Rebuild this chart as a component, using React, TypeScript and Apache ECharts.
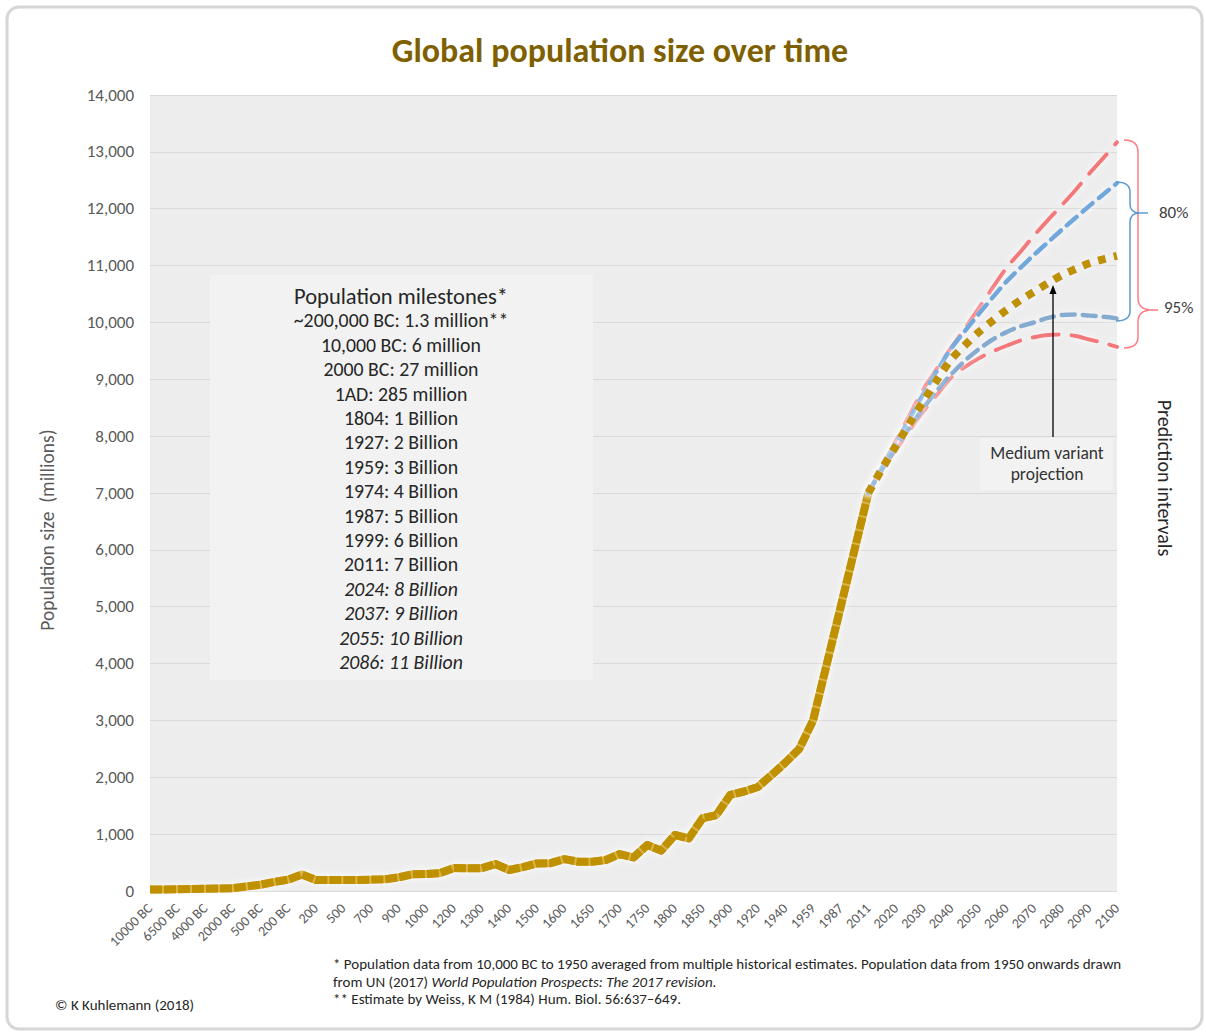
import React, { useEffect, useRef } from "react";
import * as echarts from "echarts";

// ---- Data ----
const histYears = [
  "10000 BC", "8000 BC", "6500 BC", "5000 BC", "4000 BC", "3000 BC", "2000 BC", "1000 BC", "500 BC", "400 BC",
  "200 BC", "1 AD", "200", "400", "500", "600", "700", "800", "900", "950",
  "1000", "1100", "1200", "1250", "1300", "1340", "1400", "1450", "1500", "1550",
  "1600", "1625", "1650", "1675", "1700", "1725", "1750", "1775", "1800", "1825",
  "1850", "1875", "1900", "1910", "1920", "1930", "1940", "1950", "1959", "1974",
  "1987", "1999", "2011",
];
const histValues = [
  25, 28, 30, 35, 40, 45, 50, 80, 110, 160,
  200, 290, 195, 195, 195, 195, 200, 205, 240, 295,
  300, 315, 405, 400, 400, 475, 370, 420, 485, 490,
  560, 515, 515, 545, 650, 590, 810, 710, 985, 925,
  1280, 1335, 1690, 1750, 1830, 2040, 2260, 2500, 3000, 4000,
  5000, 6000, 7000,
];
const projYears = [
  "2011", "2015", "2020", "2025", "2030", "2035", "2040", "2045", "2050", "2055",
  "2060", "2065", "2070", "2075", "2080", "2085", "2090", "2095", "2100",
];
const mediumVariant = [7000, 7430, 7830, 8230, 8620, 9000, 9350, 9600, 9830, 10030, 10220, 10390, 10540, 10690, 10830, 10940, 11040, 11110, 11170];
const upper80 = [7000, 7450, 7880, 8310, 8750, 9160, 9540, 9850, 10150, 10440, 10720, 10960, 11190, 11410, 11630, 11840, 12050, 12250, 12450];
const lower80 = [7000, 7420, 7790, 8160, 8500, 8810, 9090, 9330, 9530, 9700, 9830, 9930, 10000, 10080, 10130, 10140, 10120, 10100, 10070];
const upper95 = [7000, 7470, 7920, 8380, 8830, 9200, 9560, 9900, 10250, 10610, 10960, 11240, 11530, 11800, 12060, 12330, 12620, 12890, 13170];
const lower95 = [7000, 7410, 7760, 8110, 8440, 8740, 9030, 9220, 9370, 9490, 9590, 9680, 9740, 9780, 9790, 9760, 9700, 9640, 9570];

const categories = histYears.concat(projYears.slice(1));

const yMin = 0;
const yMax = 14000;
const yStep = 1000;

const titleText = "Global population size over time";
const yAxisTitle = "Population size  (millions)";
const milestoneTitle = "Population milestones*";
const milestones = [
  "~200,000 BC: 1.3 million**",
  "10,000 BC: 6 million",
  "2000 BC: 27 million",
  "1AD: 285 million",
  "1804: 1 Billion",
  "1927: 2 Billion",
  "1959: 3 Billion",
  "1974: 4 Billion",
  "1987: 5 Billion",
  "1999: 6 Billion",
  "2011: 7 Billion",
];
const projectedMilestones = ["2024: 8 Billion", "2037: 9 Billion", "2055: 10 Billion", "2086: 11 Billion"];
const footnote1 = "* Population data from 10,000 BC to 1950 averaged from multiple historical estimates. Population data from 1950 onwards drawn";
const footnote2 = "from UN (2017) {i|World Population Prospects: The 2017 revision.}";
const footnote3 = "** Estimate by Weiss, K M (1984) Hum. Biol. 56:637\u2013649.";
const credit = "\u00A9 K Kuhlemann (2018)";

const FONT = "Carlito, Lato, 'Open Sans', sans-serif";
const GOLD = "#BF9000";
const BLUE = "#6FA8DC";
const RED = "#F4777A";

const redBracePath =
  "M1124,140 Q1138,140 1138,152 L1138,298 Q1138,309 1150,310 L1158,310 M1150,310 Q1138,311 1138,322 L1138,337 Q1138,348 1124,348";
const blueBracePath =
  "M1116,182 Q1130,182 1130,192 L1130,204 Q1130,213 1140,213 L1148,213 M1140,213 Q1130,213 1130,222 L1130,311 Q1130,321 1116,321";

function pairs(xs: string[], ys: number[]) {
  return xs.map((x, i) => [x, ys[i]]);
}

export default function App() {
  const ref = useRef<HTMLDivElement>(null);

  useEffect(() => {
    const el = ref.current;
    if (!el) return;
    echarts.graphic.registerShape("redBrace", echarts.graphic.extendPath(redBracePath, {}));
    echarts.graphic.registerShape("blueBrace", echarts.graphic.extendPath(blueBracePath, {}));
    const chart = echarts.init(el, null, { renderer: "svg" });

    const glow = { shadowColor: "rgba(255,255,255,0.95)", shadowBlur: 7 };

    const milestoneTexts: any[] = [];
    const startY = 296;
    const stepY = 24.4;
    milestoneTexts.push({
      type: "text",
      x: 401,
      y: startY,
      z: 20,
      style: { text: milestoneTitle, font: `22.5px ${FONT}`, fill: "#262626", align: "center", verticalAlign: "middle" },
    });
    milestones.forEach((t, i) => {
      milestoneTexts.push({
        type: "text",
        x: 401,
        y: startY + stepY * (i + 1),
        z: 20,
        style: { text: t, font: `19.8px ${FONT}`, fill: "#262626", align: "center", verticalAlign: "middle" },
      });
    });
    projectedMilestones.forEach((t, i) => {
      milestoneTexts.push({
        type: "text",
        x: 401,
        y: startY + stepY * (milestones.length + 1 + i),
        z: 20,
        style: { text: t, font: `italic 19.8px ${FONT}`, fill: "#262626", align: "center", verticalAlign: "middle" },
      });
    });

    const option: any = {
      animation: false,
      backgroundColor: "#ffffff",
      grid: {
        left: 150,
        right: 89,
        top: 95,
        bottom: 144,
        show: true,
        backgroundColor: "#EDEDED",
        borderWidth: 0,
      },
      xAxis: {
        type: "category",
        data: categories,
        boundaryGap: false,
        axisLine: { show: false },
        axisTick: { show: false },
        splitLine: { show: false },
        axisLabel: {
          interval: 1,
          rotate: 45,
          margin: 15,
          fontSize: 14,
          color: "#595959",
          fontFamily: FONT,
        },
      },
      yAxis: {
        type: "value",
        min: yMin,
        max: yMax,
        interval: yStep,
        axisLine: { show: false },
        axisTick: { show: false },
        splitLine: { lineStyle: { color: "#D9D9D9", width: 1 } },
        axisLabel: {
          margin: 16,
          fontSize: 17,
          color: "#595959",
          fontFamily: FONT,
          formatter: (v: number) => v.toLocaleString("en-US"),
        },
      },
      series: [
        {
          name: "Historical",
          type: "line",
          data: pairs(histYears, histValues),
          showSymbol: false,
          z: 2,
          lineStyle: { color: "#D8B448", width: 8, cap: "butt", join: "round", ...glow },
        },
        {
          name: "Historical segments",
          type: "line",
          data: pairs(histYears, histValues),
          showSymbol: false,
          z: 3,
          lineStyle: { color: GOLD, width: 8, type: [12, 2], cap: "butt", join: "round" },
        },
        {
          name: "Upper 95%",
          type: "line",
          data: pairs(projYears, upper95),
          showSymbol: false,
          smooth: 0.3,
          z: 4,
          lineStyle: { color: RED, width: 4, type: [26, 13], cap: "round", ...glow },
        },
        {
          name: "Lower 95%",
          type: "line",
          data: pairs(projYears, lower95),
          showSymbol: false,
          smooth: 0.3,
          z: 4,
          lineStyle: { color: RED, width: 4, type: [26, 13], cap: "round", ...glow },
        },
        {
          name: "Upper 80%",
          type: "line",
          data: pairs(projYears, upper80),
          showSymbol: false,
          smooth: 0.3,
          z: 5,
          lineStyle: { color: BLUE, width: 4.5, type: [13, 8], cap: "round", ...glow },
        },
        {
          name: "Lower 80%",
          type: "line",
          data: pairs(projYears, lower80),
          showSymbol: false,
          smooth: 0.3,
          z: 5,
          lineStyle: { color: "#86ABD0", width: 4.5, type: [13, 8], cap: "round", ...glow },
        },
        {
          name: "Medium variant",
          type: "line",
          data: pairs(projYears, mediumVariant),
          showSymbol: false,
          smooth: 0.3,
          z: 6,
          lineStyle: { color: GOLD, width: 8, type: [8, 8], cap: "butt", ...glow },
        },
      ],
      graphic: [
        {
          type: "rect",
          z: 1,
          shape: { x: 7, y: 7, width: 1195, height: 1022, r: 12 },
          style: { fill: "none", stroke: "#D6D6D6", lineWidth: 3 },
        },
        {
          type: "text",
          x: 620,
          y: 50,
          z: 20,
          style: { text: titleText, font: `bold 34px ${FONT}`, fill: "#7F6000", align: "center", verticalAlign: "middle" },
        },
        {
          type: "text",
          x: 47,
          y: 530,
          rotation: Math.PI / 2,
          z: 20,
          style: { text: yAxisTitle, font: `19.5px ${FONT}`, fill: "#595959", align: "center", verticalAlign: "middle" },
        },
        {
          type: "rect",
          z: 10,
          shape: { x: 210, y: 275, width: 383, height: 405 },
          style: { fill: "#F2F2F2" },
        },
        ...milestoneTexts,
        {
          type: "rect",
          z: 10,
          shape: { x: 980, y: 438, width: 133, height: 52 },
          style: { fill: "#F2F2F2" },
        },
        {
          type: "text",
          x: 1047,
          y: 453,
          z: 20,
          style: { text: "Medium variant", font: `17.5px ${FONT}`, fill: "#333333", align: "center", verticalAlign: "middle" },
        },
        {
          type: "text",
          x: 1047,
          y: 474,
          z: 20,
          style: { text: "projection", font: `17.5px ${FONT}`, fill: "#333333", align: "center", verticalAlign: "middle" },
        },
        {
          type: "line",
          z: 20,
          shape: { x1: 1053, y1: 437, x2: 1053, y2: 293 },
          style: { stroke: "#000000", lineWidth: 1.3 },
        },
        {
          type: "polygon",
          z: 20,
          shape: { points: [[1053, 285], [1049.5, 294], [1056.5, 294]] },
          style: { fill: "#000000" },
        },
        {
          type: "redBrace",
          x: 0,
          y: 0,
          z: 20,
          style: { fill: "none", stroke: "#FF7C80", lineWidth: 1.5 },
        },
        {
          type: "blueBrace",
          x: 0,
          y: 0,
          z: 20,
          style: { fill: "none", stroke: "#5B9BD5", lineWidth: 1.5 },
        },
        {
          type: "text",
          x: 1159,
          y: 212,
          z: 20,
          style: { text: "80%", font: `17px ${FONT}`, fill: "#404040", align: "left", verticalAlign: "middle" },
        },
        {
          type: "text",
          x: 1164,
          y: 307,
          z: 20,
          style: { text: "95%", font: `17px ${FONT}`, fill: "#404040", align: "left", verticalAlign: "middle" },
        },
        {
          type: "text",
          x: 1165,
          y: 478,
          rotation: -Math.PI / 2,
          z: 20,
          style: { text: "Prediction intervals", font: `20px ${FONT}`, fill: "#262626", align: "center", verticalAlign: "middle" },
        },
        {
          type: "text",
          x: 333,
          y: 964,
          z: 20,
          style: { text: footnote1, font: `15px ${FONT}`, fill: "#262626", align: "left", verticalAlign: "middle" },
        },
        {
          type: "text",
          x: 333,
          y: 982,
          z: 20,
          style: {
            text: footnote2,
            font: `15px ${FONT}`,
            fill: "#262626",
            align: "left",
            verticalAlign: "middle",
            rich: { i: { fontStyle: "italic", fontSize: 15, fontFamily: FONT, fill: "#262626" } },
          },
        },
        {
          type: "text",
          x: 333,
          y: 999,
          z: 20,
          style: { text: footnote3, font: `15px ${FONT}`, fill: "#262626", align: "left", verticalAlign: "middle" },
        },
        {
          type: "text",
          x: 55,
          y: 1005,
          z: 20,
          style: { text: credit, font: `15px ${FONT}`, fill: "#262626", align: "left", verticalAlign: "middle" },
        },
      ],
    };

    chart.setOption(option);
    return () => chart.dispose();
  }, []);

  return (
    <div
      ref={ref}
      style={{ position: "fixed", left: 0, top: 0, width: 1206, height: 1035, background: "#ffffff" }}
    />
  );
}
